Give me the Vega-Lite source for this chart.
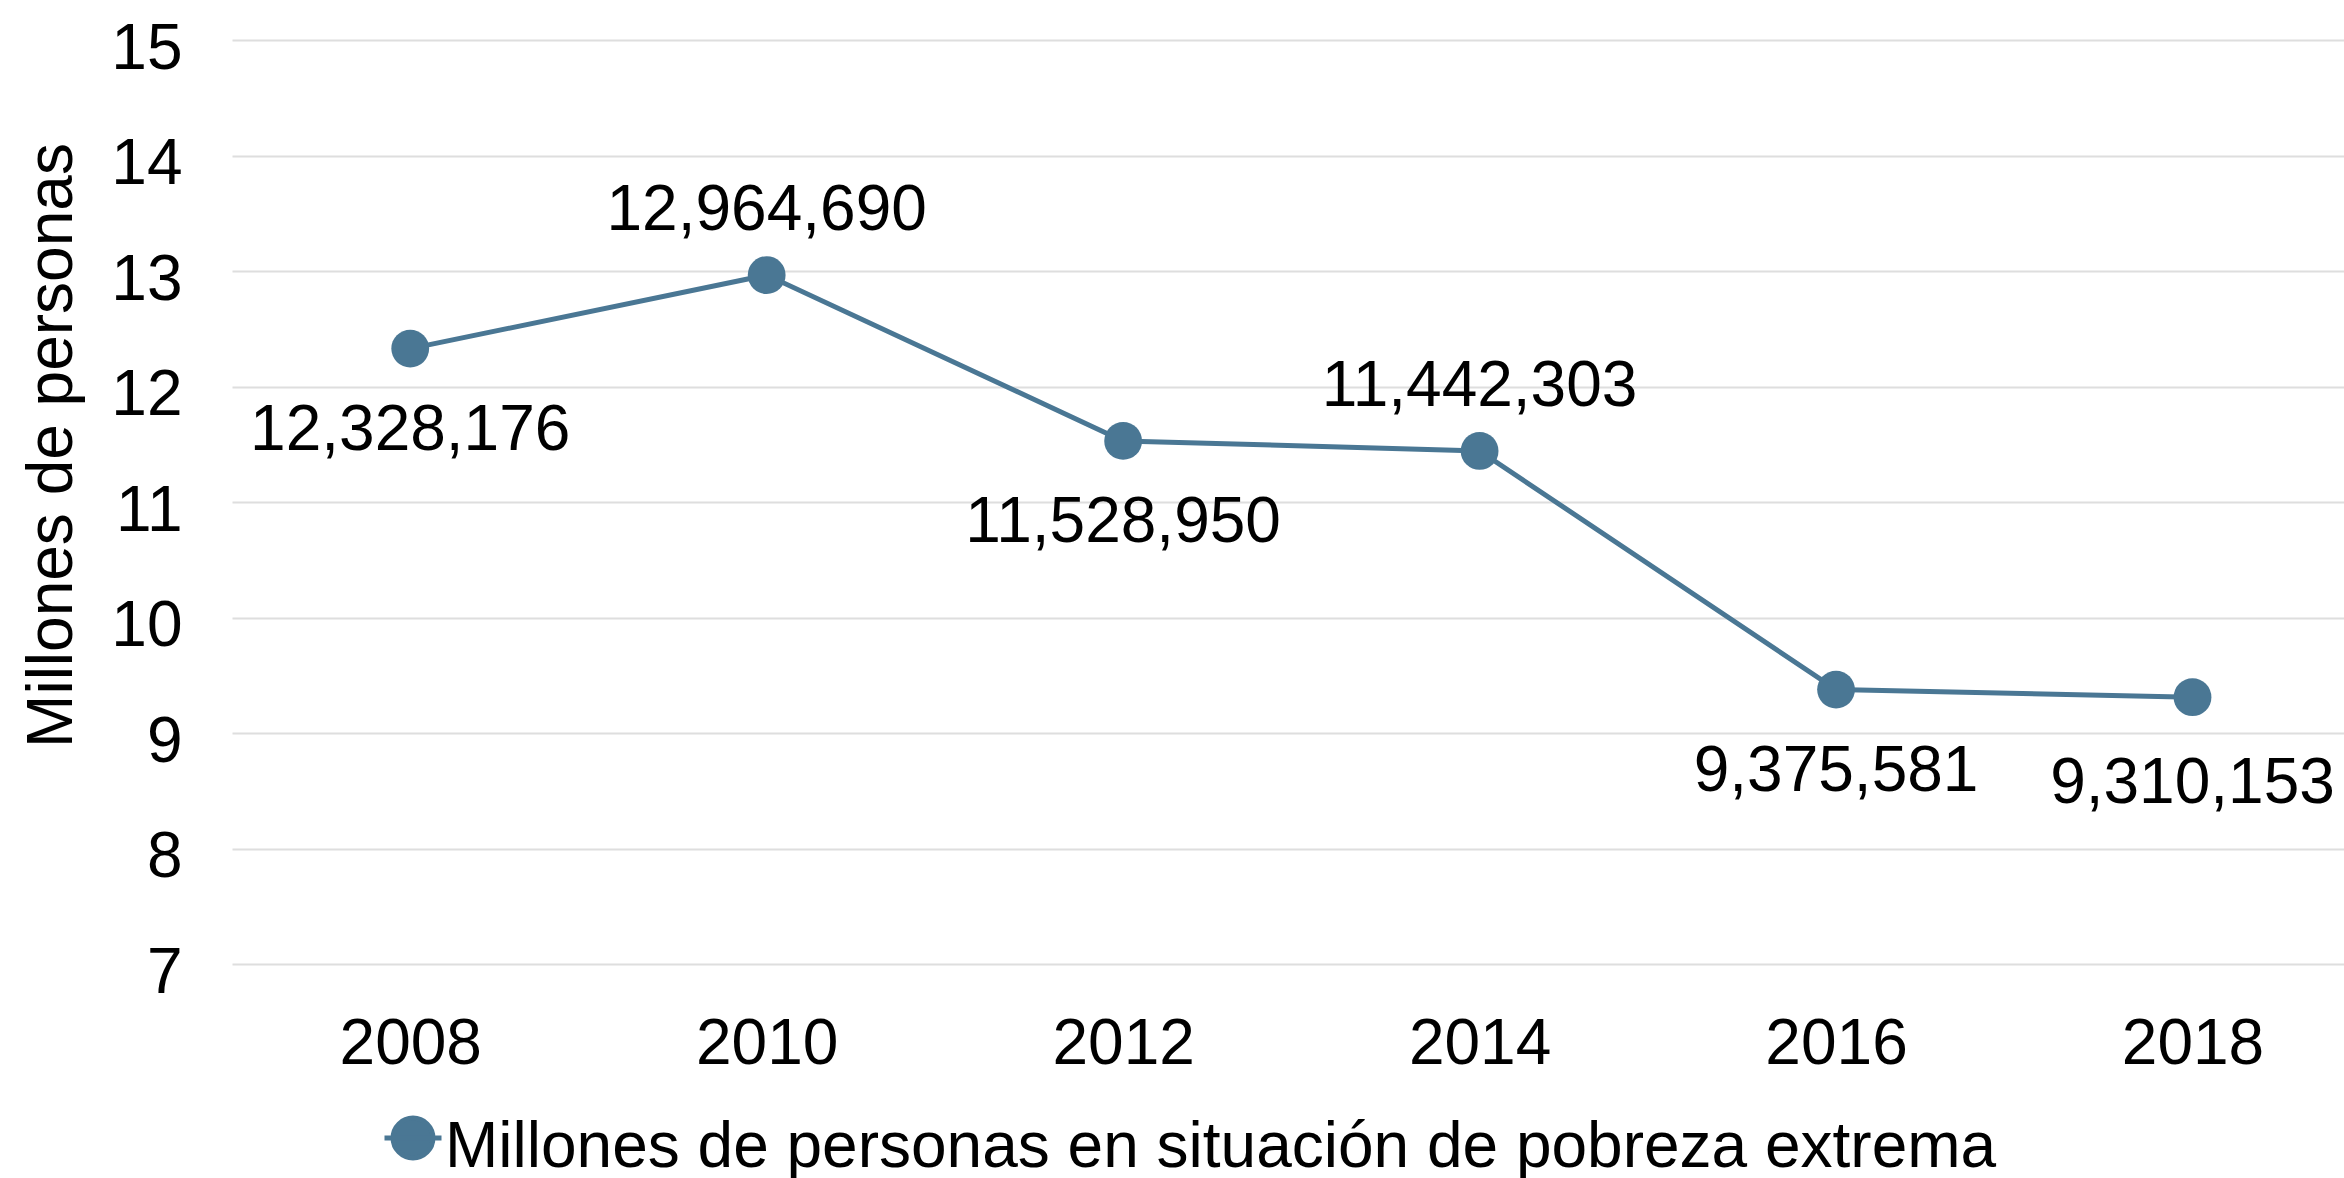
{
  "$schema": "https://vega.github.io/schema/vega-lite/v6.json",
  "autosize": {"type": "none"},
  "width": 2112,
  "height": 924,
  "padding": {"left": 232, "top": 40, "right": 0, "bottom": 214},
  "background": "white",
  "config": {
    "view": {"stroke": null},
    "font": "Liberation Sans"
  },
  "data": {
    "values": [
      {"anio": 2008, "personas": 12328176, "serie": "Millones de personas en situación de pobreza extrema"},
      {"anio": 2010, "personas": 12964690, "serie": "Millones de personas en situación de pobreza extrema"},
      {"anio": 2012, "personas": 11528950, "serie": "Millones de personas en situación de pobreza extrema"},
      {"anio": 2014, "personas": 11442303, "serie": "Millones de personas en situación de pobreza extrema"},
      {"anio": 2016, "personas": 9375581, "serie": "Millones de personas en situación de pobreza extrema"},
      {"anio": 2018, "personas": 9310153, "serie": "Millones de personas en situación de pobreza extrema"}
    ]
  },
  "encoding": {
    "x": {
      "field": "anio",
      "type": "quantitative",
      "scale": {"domain": [2007, 2018.85], "nice": false, "zero": false},
      "axis": {
        "title": null,
        "values": [2008, 2010, 2012, 2014, 2016, 2018],
        "format": "d",
        "grid": false,
        "domain": false,
        "ticks": false,
        "labelFontSize": 64,
        "labelColor": "#000000",
        "labelBaseline": "alphabetic",
        "labelPadding": 99,
        "labelFlush": false,
        "labelOverlap": false
      }
    },
    "y": {
      "field": "personas",
      "type": "quantitative",
      "scale": {"domain": [7000000, 15000000], "nice": false, "zero": false},
      "axis": {
        "title": "Millones de personas",
        "titleFontSize": 64,
        "titleFontWeight": "normal",
        "titleColor": "#000000",
        "titleAngle": -90,
        "titleAlign": "center",
        "titleBaseline": "alphabetic",
        "titleX": -161,
        "titleY": 405,
        "values": [7000000, 8000000, 9000000, 10000000, 11000000, 12000000, 13000000, 14000000, 15000000],
        "labelExpr": "format(datum.value / 1000000, 'd')",
        "grid": true,
        "gridColor": "#dedede",
        "gridWidth": 2,
        "domain": false,
        "ticks": false,
        "labelFontSize": 64,
        "labelColor": "#000000",
        "labelBaseline": "alphabetic",
        "labelOffset": 28,
        "labelPadding": 50,
        "labelFlush": false,
        "labelOverlap": false
      }
    }
  },
  "layer": [
    {
      "mark": {"type": "line", "strokeWidth": 5},
      "encoding": {
        "color": {
          "field": "serie",
          "type": "nominal",
          "scale": {"range": ["#4a7794"]},
          "legend": {
            "orient": "none",
            "legendX": 149,
            "legendY": 1066,
            "title": null,
            "padding": 0,
            "symbolType": "M-1,0L1,0M0.7,0A0.7,0.7,0,1,1,-0.7,0A0.7,0.7,0,1,1,0.7,0Z",
            "symbolSize": 3249,
            "symbolStrokeWidth": 5,
            "symbolFillColor": "#4a7794",
            "symbolStrokeColor": "#4a7794",
            "labelFontSize": 64,
            "labelColor": "#000000",
            "labelOffset": 0,
            "labelLimit": 0,
            "encode": {"labels": {"update": {"dy": {"value": 10}}}}
          }
        }
      }
    },
    {
      "mark": {"type": "point", "filled": true, "size": 1430, "opacity": 1},
      "encoding": {
        "color": {"field": "serie", "type": "nominal", "scale": {"range": ["#4a7794"]}}
      }
    },
    {
      "transform": [{"filter": "datum.anio == 2010 || datum.anio == 2014"}],
      "mark": {"type": "text", "fontSize": 64, "color": "#000000", "baseline": "alphabetic", "align": "center", "dy": -45},
      "encoding": {"text": {"field": "personas", "type": "quantitative", "format": ",d"}}
    },
    {
      "transform": [{"filter": "datum.anio == 2008 || datum.anio == 2012 || datum.anio == 2016"}],
      "mark": {"type": "text", "fontSize": 64, "color": "#000000", "baseline": "alphabetic", "align": "center", "dy": 101},
      "encoding": {"text": {"field": "personas", "type": "quantitative", "format": ",d"}}
    },
    {
      "transform": [{"filter": "datum.anio == 2018"}],
      "mark": {"type": "text", "fontSize": 64, "color": "#000000", "baseline": "alphabetic", "align": "center", "dy": 106},
      "encoding": {"text": {"field": "personas", "type": "quantitative", "format": ",d"}}
    }
  ]
}
